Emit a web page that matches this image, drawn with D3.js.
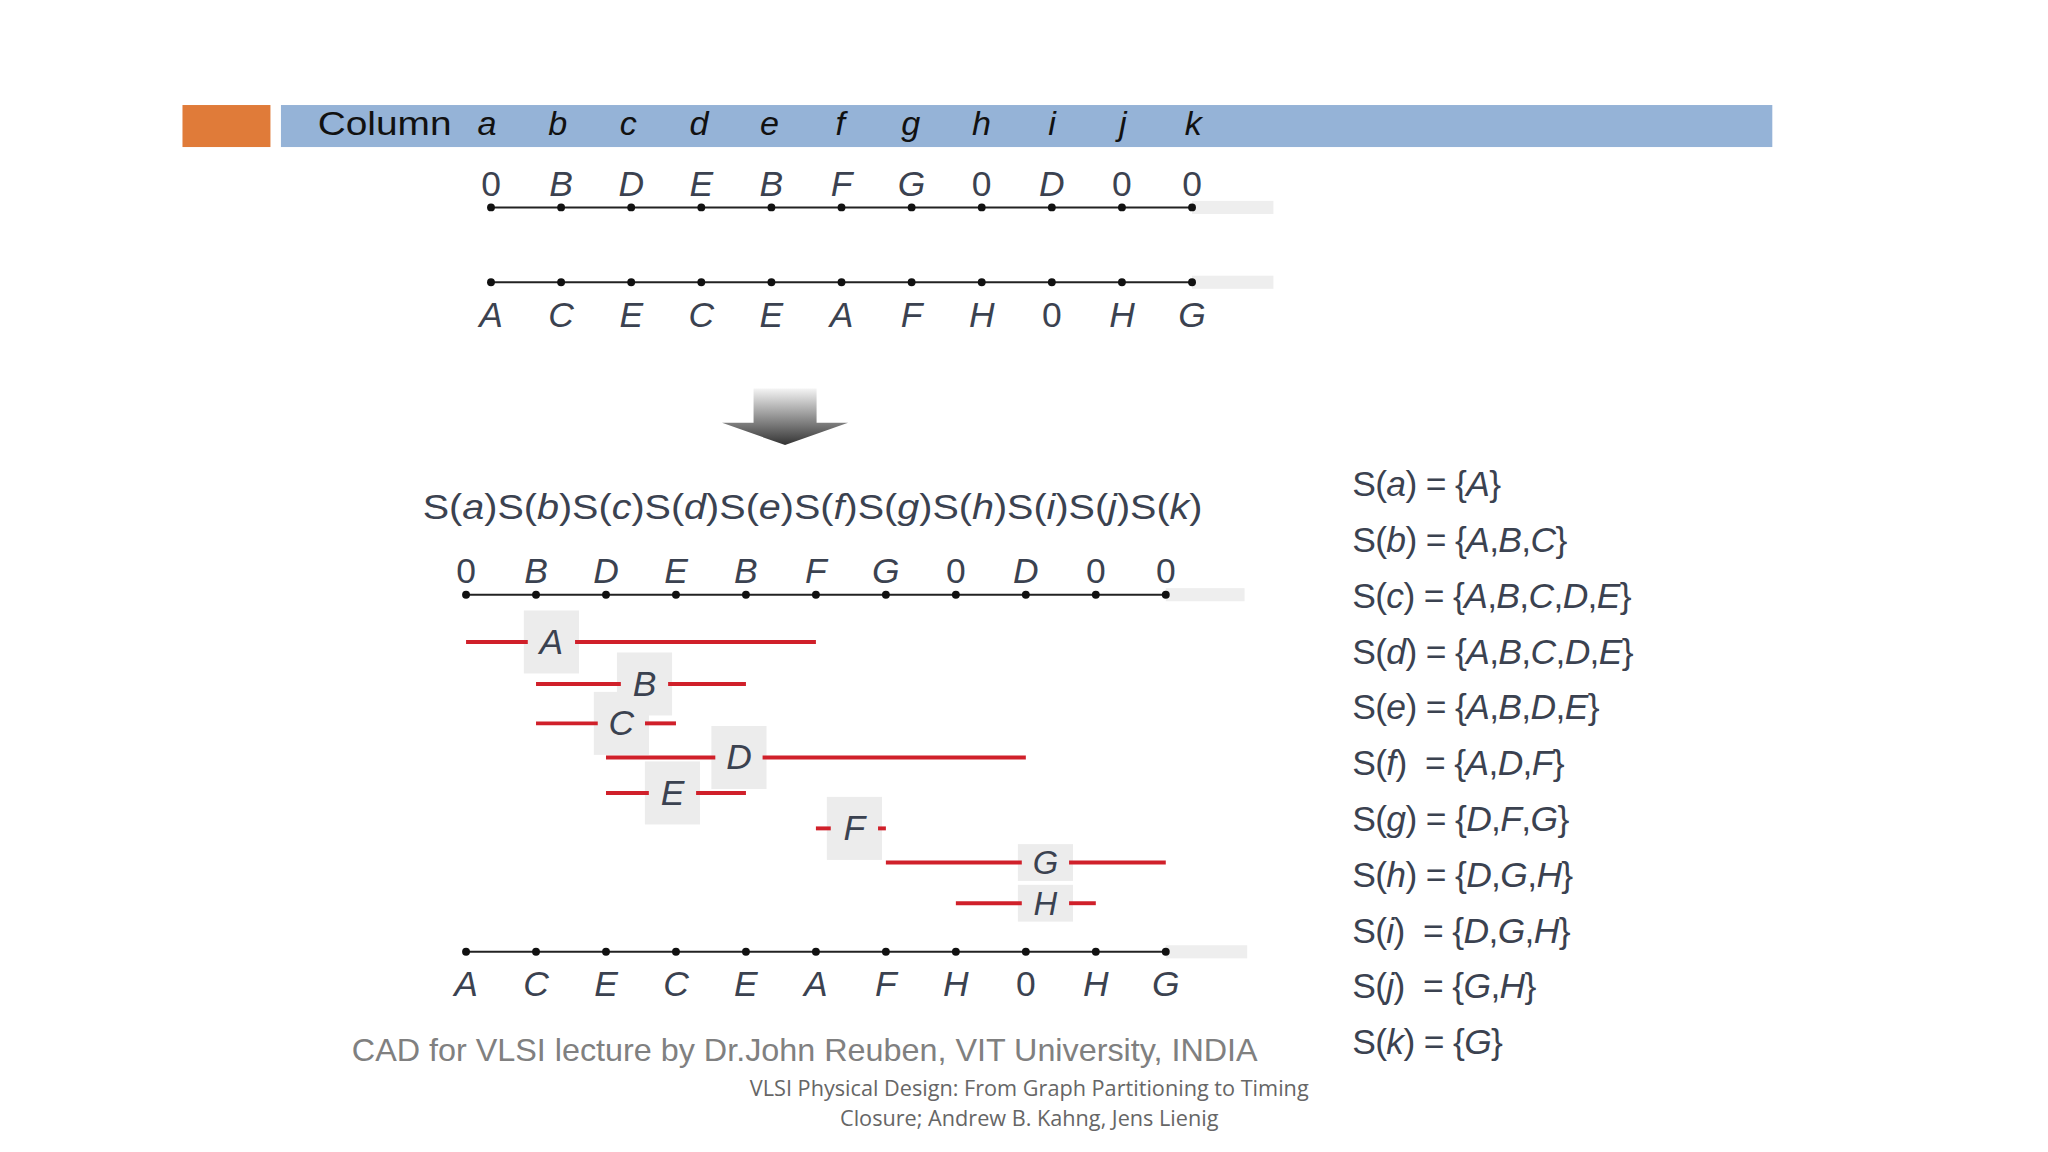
<!DOCTYPE html>
<html><head><meta charset="utf-8">
<script src="https://cdn.jsdelivr.net/npm/d3@7"></script>
<style>body{margin:0;background:#fff}text{font-family:"Liberation Sans",Arial,sans-serif}</style>
</head><body><svg id="c" width="2048" height="1152" viewBox="0 0 1560 877.5"></svg>
<script>
const columns = ['a','b','c','d','e','f','g','h','i','j','k']
const topRow = ['0','B','D','E','B','F','G','0','D','0','0']
const bottomRow = ['A','C','E','C','E','A','F','H','0','H','G']
// net: start column, end column, label position (in columns), track
const nets = [
  {name:'A', start:0, end:5, label:1.22, track:0},
  {name:'B', start:1, end:4, label:2.55, track:1},
  {name:'C', start:1, end:3, label:2.22, track:2},
  {name:'D', start:2, end:8, label:3.9, track:3},
  {name:'E', start:2, end:4, label:2.95, track:4},
  {name:'F', start:5, end:6, label:5.55, track:5},
  {name:'G', start:6, end:10, label:8.28, track:6},
  {name:'H', start:7, end:9, label:8.28, track:7},
]
const sets = [['A'],['A','B','C'],['A','B','C','D','E'],['A','B','C','D','E'],['A','B','D','E'],
  ['A','D','F'],['D','F','G'],['D','G','H'],['D','G','H'],['G','H'],['G']]

const svg = d3.select('#c')
const ink = '#3b4250'

// header bar
svg.append('rect').attr('x',139).attr('y',80).attr('width',67).attr('height',32).attr('fill','#e07b39')
svg.append('rect').attr('x',214).attr('y',80).attr('width',1136).attr('height',32).attr('fill','#95b3d7')
svg.append('text').attr('x',242).attr('y',103).attr('font-size',26).attr('fill','#111')
  .attr('textLength',102).attr('lengthAdjust','spacingAndGlyphs').text('Column')
const xHead = d3.scalePoint().domain(columns).range([371,909])
svg.selectAll('.col').data(columns).join('text').attr('x',d=>xHead(d)).attr('y',103)
  .attr('text-anchor','middle').attr('font-size',26).attr('font-style','italic').attr('fill','#111').text(d=>d)

function channel(x, yLine, labels, yLabel, greyEnd) {
  svg.append('rect').attr('x',x(10)).attr('y',yLine-5).attr('width',greyEnd-x(10)).attr('height',10).attr('fill','#eee')
  svg.append('line').attr('x1',x(0)).attr('x2',x(10)).attr('y1',yLine).attr('y2',yLine).attr('stroke','#222').attr('stroke-width',1.6)
  svg.append('g').selectAll('circle').data(labels).join('circle').attr('cx',(d,i)=>x(i)).attr('cy',yLine).attr('r',3).attr('fill','#111')
  svg.append('g').selectAll('text').data(labels).join('text').attr('x',(d,i)=>x(i)).attr('y',yLabel)
    .attr('text-anchor','middle').attr('font-size',27).attr('font-style',d=>d==='0'?'normal':'italic').attr('fill',ink).text(d=>d)
}

const xUp = d3.scaleLinear().domain([0,10]).range([374,908])
channel(xUp, 158, topRow, 149, 970)
channel(xUp, 215, bottomRow, 249, 970)

// arrow
const grad = svg.append('defs').append('linearGradient').attr('id','ag').attr('x1',0).attr('y1',0).attr('x2',0).attr('y2',1)
grad.append('stop').attr('offset','0%').attr('stop-color','#f4f4f4')
grad.append('stop').attr('offset','100%').attr('stop-color','#333')
svg.append('path').attr('d','M574,296 H622 V322 H646 L598,339 L550,322 H574 Z').attr('fill','url(#ag)')

const xLo = d3.scaleLinear().domain([0,10]).range([355,888])
// S(x) header
svg.append('text').attr('x',619).attr('y',395).attr('text-anchor','middle').attr('font-size',27).attr('fill',ink)
  .attr('textLength',594).attr('lengthAdjust','spacingAndGlyphs')
  .selectAll('tspan').data(columns.flatMap(c=>[['S(',0],[c,1],[')',0]])).join('tspan')
  .attr('font-style',d=>d[1]?'italic':'normal').text(d=>d[0])
channel(xLo, 453, topRow, 444, 948)
channel(xLo, 725, bottomRow, 759, 950)

const yTrack = d3.scaleOrdinal().domain(d3.range(8)).range([489,521,551,577,604,631,657,688])
const g = svg.append('g')
nets.forEach(n => {
  const y = yTrack(n.track), lx = xLo(n.label)
  const tall = n.track < 6 ? 24 : 14
  g.append('rect').attr('x',lx-21).attr('y',y-tall).attr('width',42).attr('height',tall*2).attr('fill','#ececec')
  g.append('line').attr('x1',xLo(n.start)).attr('x2',lx-18).attr('y1',y).attr('y2',y).attr('stroke','#d0202a').attr('stroke-width',3)
  g.append('line').attr('x1',lx+18).attr('x2',xLo(n.end)).attr('y1',y).attr('y2',y).attr('stroke','#d0202a').attr('stroke-width',3)
})
nets.forEach(n => {
  g.append('text').attr('x',xLo(n.label)).attr('y',yTrack(n.track)+9).attr('text-anchor','middle')
    .attr('font-size',n.track < 6 ? 27 : 25).attr('font-style','italic').attr('fill',ink).text(n.name)
})

// sets list
const yList = d3.scaleLinear().domain([0,10]).range([378,803])
columns.forEach((c,i) => {
  const t = svg.append('text').attr('x',1030).attr('y',yList(i)).attr('font-size',27).attr('fill',ink).attr('letter-spacing',-0.5)
  const parts = [['S(',0],[c,1],[')'+(c==='f'||c==='i'||c==='j'?'  ':' ')+'= {',0]]
  sets[i].forEach((s,k)=>{ parts.push([s,1]); if(k<sets[i].length-1) parts.push([',',0]) })
  parts.push(['}',0])
  t.attr('xml:space','preserve').selectAll('tspan').data(parts).join('tspan').attr('font-style',d=>d[1]?'italic':'normal').text(d=>d[0])
})

svg.append('text').attr('x',268).attr('y',808).attr('font-size',24).attr('fill','#808080')
  .attr('textLength',690).attr('lengthAdjust','spacingAndGlyphs').text('CAD for VLSI lecture by Dr.John Reuben, VIT University, INDIA')
svg.append('text').attr('x',784).attr('y',835).attr('text-anchor','middle').attr('font-size',16.5).attr('fill','#666')
  .style('font-family','"Open Sans"').text('VLSI Physical Design: From Graph Partitioning to Timing')
svg.append('text').attr('x',784).attr('y',858).attr('text-anchor','middle').attr('font-size',16.5).attr('fill','#666')
  .style('font-family','"Open Sans"').text('Closure; Andrew B. Kahng, Jens Lienig')
</script></body></html>
